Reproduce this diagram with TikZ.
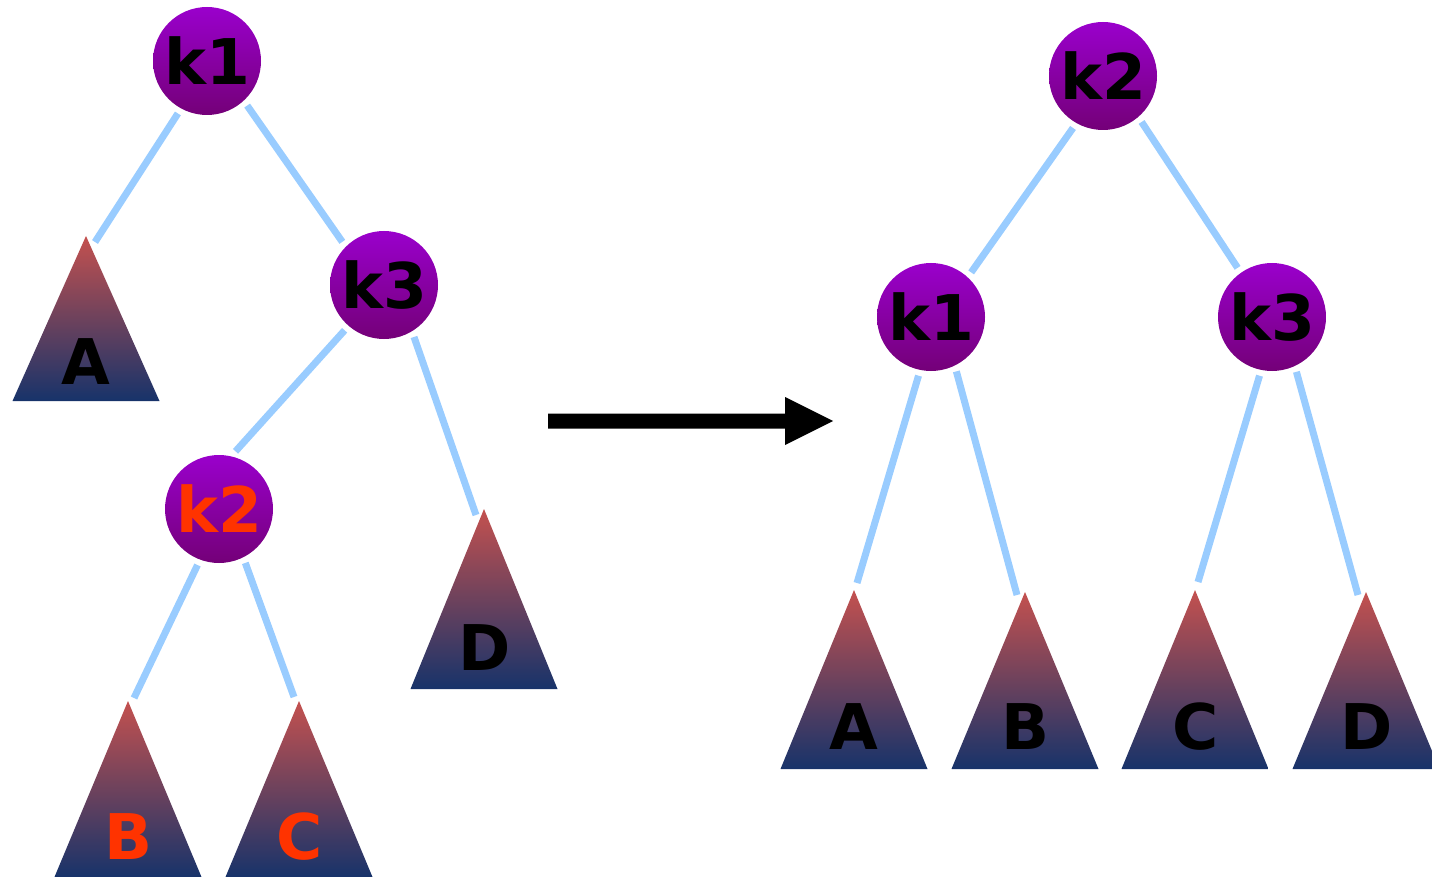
\documentclass[tikz,border=0pt]{standalone}
\usepackage{fontspec}
\setmainfont{DejaVu Sans}
\definecolor{ctop}{HTML}{9A00CC}
\definecolor{cbot}{HTML}{740078}
\definecolor{ttop}{HTML}{C4514F}
\definecolor{tbot}{HTML}{17336A}
\definecolor{edgeblue}{HTML}{99CCFF}
\definecolor{redlab}{HTML}{FF3300}
\tikzset{
  keynode/.style={circle, minimum size=108pt, inner sep=0pt, outer sep=6pt,
    top color=ctop, bottom color=cbot, draw=none,
    font=\fontsize{63}{63}\selectfont\bfseries},
  trilabel/.style={inner sep=0pt, font=\fontsize{63}{63}\selectfont\bfseries},
  edge/.style={draw=edgeblue, line width=7pt},
  tri/.style={top color=ttop, bottom color=tbot, draw=none},
}
\newcommand{\subtree}[6]{% name, apex x, apex y, base y, end dx, end dy
  \coordinate (#1) at (#2,#3);
  \coordinate (e#1) at ({#2+#5},{#3+#6});
  \shade[tri] (#2,#3) -- ({#2-73.5},#4) -- ({#2+73.5},#4) -- cycle;
}
\begin{document}
\begin{tikzpicture}[x=1pt,y=-1pt]
\useasboundingbox (0,0) rectangle (1432,877);
\clip (0,0) rectangle (1432,877);
% left tree
\subtree{tA1}{86}{236}{401}{9}{6}
\subtree{tB1}{128}{701}{877}{6}{-3}
\subtree{tC1}{299}{701}{877}{-5}{-4}
\subtree{tD1}{484}{509}{689}{-8}{6}
\node[trilabel] (A1) at (86,362) {A};
\node[trilabel,text=redlab] (B1) at (129,837) {B};
\node[trilabel,text=redlab] (C1) at (300,837) {C};
\node[trilabel] (D1) at (485,648) {D};
\node[keynode] (k1L) at (207,61) {k1};
\node[keynode] (k3L) at (384,285) {k3};
\node[keynode,text=redlab] (k2L) at (219,509) {k2};
\draw[edge] (k1L.241) -- (etA1);
\draw[edge] (k1L.312) -- (k3L.134);
\draw[edge] (k3L.229) -- (k2L.74);
\draw[edge] (k3L.300) -- (etD1);
\draw[edge] (k2L.249) -- (etB1);
\draw[edge] (k2L.296) -- (etC1);
% arrow
\fill (548,413.5) -- (785,413.5) -- (785,397) -- (833,421) -- (785,445) -- (785,428.5) -- (548,428.5) -- cycle;
% right tree
\subtree{tA2}{854}{590}{769}{3}{-7}
\subtree{tB2}{1025}{592}{769}{-8}{3}
\subtree{tC2}{1195}{590}{769}{3}{-8}
\subtree{tD2}{1366}{592}{769}{-8}{3}
\node[trilabel] (A2) at (854,727) {A};
\node[trilabel] (B2) at (1025,727) {B};
\node[trilabel] (C2) at (1196,727) {C};
\node[trilabel] (D2) at (1367,727) {D};
\node[keynode] (k2R) at (1103,76) {k2};
\node[keynode] (k1R) at (931,317) {k1};
\node[keynode] (k3R) at (1272,317) {k3};
\draw[edge] (k2R.240) -- (k1R.48);
\draw[edge] (k2R.310) -- (k3R.125);
\draw[edge] (k1R.258) -- (etA2);
\draw[edge] (k1R.295) -- (etB2);
\draw[edge] (k3R.258) -- (etC2);
\draw[edge] (k3R.294) -- (etD2);
\end{tikzpicture}
\end{document}
